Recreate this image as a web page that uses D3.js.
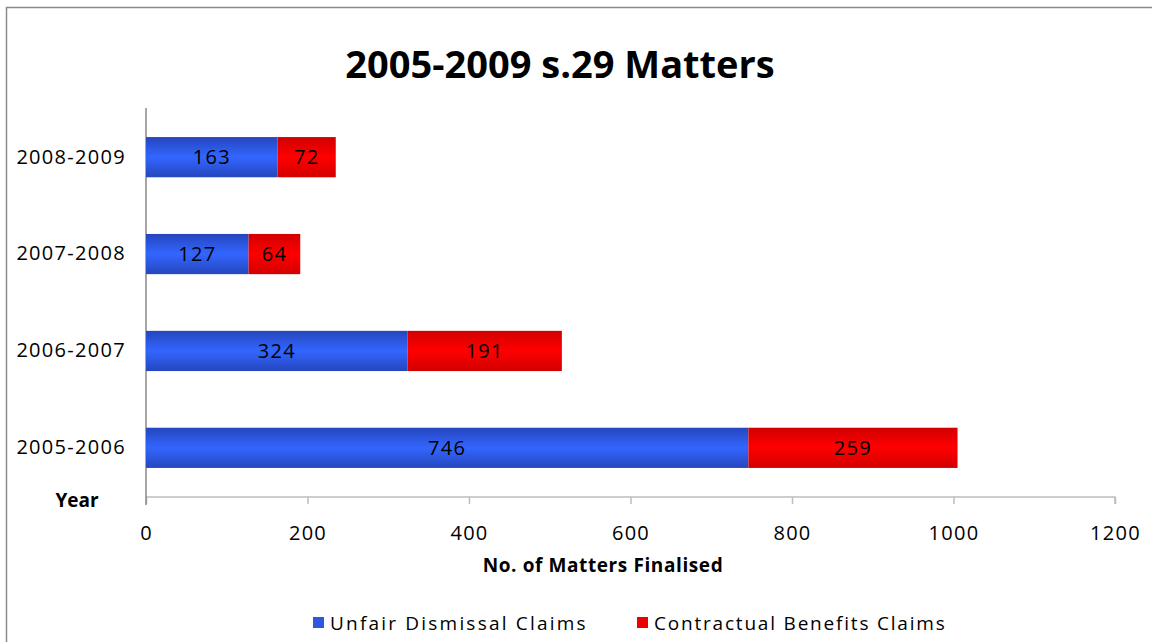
<!DOCTYPE html>
<html>
<head>
<meta charset="utf-8">
<script src="https://d3js.org/d3.v7.min.js"></script>
<style>
  body { margin: 0px; background: #fff; }
  text { font-family: "Open Sans", "Noto Sans", sans-serif; }
</style>
</head>
<body>
<div id="chart"></div>
<script>
// data
var years = ["2008-2009", "2007-2008", "2006-2007", "2005-2006"];
var unfairDismissal = [163, 127, 324, 746];
var contractualBenefits = [72, 64, 191, 259];
var seriesNames = ["Unfair Dismissal Claims", "Contractual Benefits Claims"];
var xTicks = [0, 200, 400, 600, 800, 1000, 1200];

var W = 1152, H = 642;
var plotL = 146, plotR = 1115, plotT = 108, plotB = 497;

var svg = d3.select("#chart").append("svg")
  .attr("width", W).attr("height", H);

// gradients (dark edges, bright middle)
var defs = svg.append("defs");
function grad(id, edge, mid) {
  var g = defs.append("linearGradient").attr("id", id)
    .attr("x1", 0).attr("y1", 0).attr("x2", 0).attr("y2", 1);
  g.append("stop").attr("offset", "0%").attr("stop-color", edge);
  g.append("stop").attr("offset", "50%").attr("stop-color", mid);
  g.append("stop").attr("offset", "100%").attr("stop-color", edge);
}
grad("gBlue", "#2546bd", "#3366ff");
grad("gRed", "#d20000", "#ff0000");
var fills = ["url(#gBlue)", "url(#gRed)"];
var legendColors = ["#2f58e0", "#ee0000"];

// outer border
svg.append("rect")
  .attr("x", 6.5).attr("y", 7.5).attr("width", W + 20).attr("height", H + 20)
  .attr("fill", "none").attr("stroke", "#8a8a8a").attr("stroke-width", 1.5);

var x = d3.scaleLinear().domain([0, 1200]).range([plotL, plotR]);
var y = d3.scaleBand().domain(years).range([plotT, plotB]).paddingInner(0.585).paddingOuter(0.3);

// x axis
var xAxis = svg.append("g")
  .attr("transform", "translate(0," + plotB + ")")
  .call(d3.axisBottom(x).tickValues(xTicks).tickFormat(d3.format("d")).tickSize(7).tickPadding(22));
xAxis.select(".domain").attr("stroke", "#bdbdbd").attr("stroke-width", 1.5)
  .attr("d", "M" + plotL + ",0H" + plotR + "V7");
xAxis.selectAll(".tick line").attr("stroke", "#bdbdbd").attr("stroke-width", 1.5);
xAxis.selectAll(".tick text").attr("fill", "#000").style("font-size", "20px")
  .style("letter-spacing", "1.3px")
  .style("font-family", "'Open Sans', sans-serif");

// y axis
var yAxis = svg.append("g")
  .attr("transform", "translate(" + plotL + ",0)")
  .call(d3.axisLeft(y).tickSize(0).tickPadding(20));
yAxis.select(".domain").attr("stroke", "#8a8a8a").attr("stroke-width", 1.5)
  .attr("d", "M0," + plotT + "V" + (plotB + 8));
yAxis.selectAll(".tick text").attr("fill", "#000").style("font-size", "20px")
  .style("letter-spacing", "1.3px")
  .style("font-family", "'Open Sans', sans-serif");

// stacked bars
var stackData = years.map(function (d, i) {
  return { year: d, vals: [unfairDismissal[i], contractualBenefits[i]] };
});
stackData.forEach(function (d) {
  var x0 = 0;
  d.segs = d.vals.map(function (v, k) {
    var s = { year: d.year, k: k, x0: x0, x1: x0 + v, v: v };
    x0 += v;
    return s;
  });
});
var segs = [].concat.apply([], stackData.map(function (d) { return d.segs; }));

svg.selectAll("rect.bar").data(segs).enter().append("rect")
  .attr("class", "bar")
  .attr("x", function (d) { return x(d.x0); })
  .attr("y", function (d) { return y(d.year); })
  .attr("width", function (d) { return x(d.x1) - x(d.x0); })
  .attr("height", y.bandwidth())
  .attr("fill", function (d) { return fills[d.k]; });

svg.selectAll("text.lab").data(segs).enter().append("text")
  .attr("class", "lab")
  .attr("x", function (d) { return (x(d.x0) + x(d.x1)) / 2; })
  .attr("y", function (d) { return y(d.year) + y.bandwidth() / 2; })
  .attr("dy", "0.35em")
  .attr("text-anchor", "middle")
  .style("font-size", "20px").style("letter-spacing", "1.3px")
  .text(function (d) { return d.v; });

// title
svg.append("text")
  .attr("x", 560).attr("y", 78)
  .attr("text-anchor", "middle")
  .style("font-size", "38px").style("font-weight", "bold")
  .text("2005-2009 s.29 Matters");

// axis titles
svg.append("text")
  .attr("x", 77).attr("y", 507).attr("text-anchor", "middle")
  .style("font-size", "19px").style("font-weight", "bold")
  .text("Year");
svg.append("text")
  .attr("x", 603).attr("y", 572).attr("text-anchor", "middle")
  .style("font-size", "19px").style("font-weight", "bold").style("letter-spacing", "0.6px")
  .text("No. of Matters Finalised");

// legend
var legX = [313, 637];
var legSpacing = ["2.2px", "1.8px"];
var leg = svg.selectAll("g.leg").data(seriesNames).enter().append("g")
  .attr("class", "leg")
  .attr("transform", function (d, i) { return "translate(" + legX[i] + ",617)"; });
leg.append("rect").attr("width", 11).attr("height", 11)
  .attr("fill", function (d, i) { return legendColors[i]; });
leg.append("text").attr("x", 17).attr("y", 6).attr("dy", "0.35em")
  .style("font-size", "19px")
  .style("letter-spacing", function (d, i) { return legSpacing[i]; })
  .text(function (d) { return d; });
</script>
</body>
</html>
